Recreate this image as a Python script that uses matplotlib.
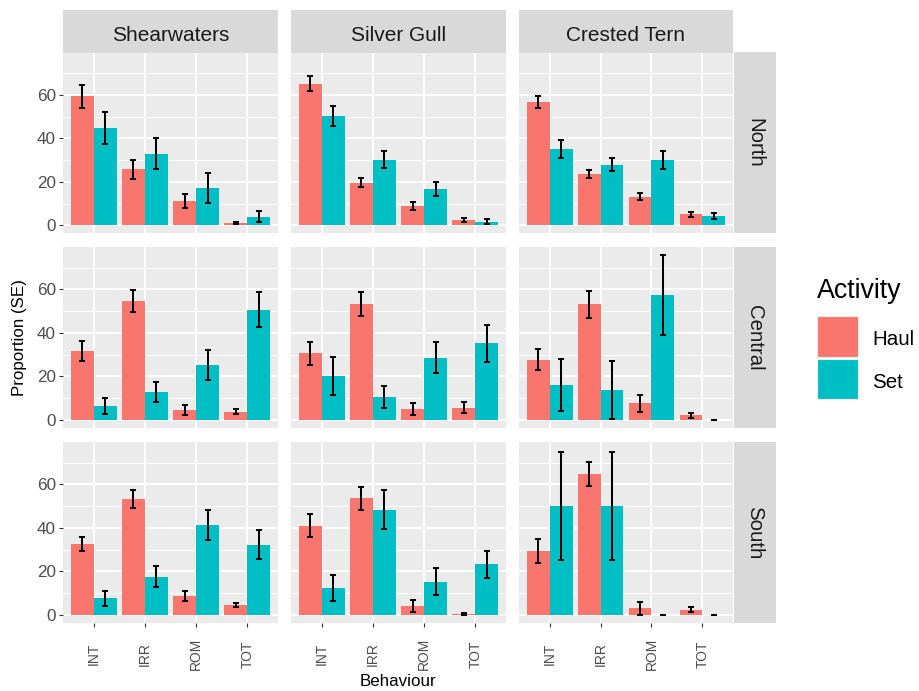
import numpy as np
import matplotlib
matplotlib.use('Agg')
import matplotlib.pyplot as plt
from matplotlib.patches import Rectangle

plt.rcParams['font.family'] = ['Liberation Sans', 'DejaVu Sans']

behaviours = ['INT', 'IRR', 'ROM', 'TOT']
birds = ['Shearwaters', 'Silver Gull', 'Crested Tern']
regions = ['North', 'Central', 'South']
activities = ['Haul', 'Set']

# one row per region (North, Central, South), one column per behaviour
shearwaters_haul = [[59.3, 25.7, 11.0, 1.2], [31.7, 54.7, 4.6, 3.7], [32.5, 53.3, 8.7, 4.6]]
shearwaters_haul_se = [[5.3, 4.4, 3.2, 0.5], [4.6, 5.1, 2.4, 1.2], [3.3, 4.0, 2.3, 0.9]]
shearwaters_set = [[44.9, 32.9, 17.2, 4.0], [6.4, 12.7, 25.3, 50.7], [7.5, 17.6, 41.5, 32.2]]
shearwaters_set_se = [[7.3, 7.2, 6.9, 2.5], [3.6, 4.7, 7.0, 8.0], [3.6, 5.0, 6.9, 6.6]]

silvergull_haul = [[65.2, 19.6, 8.9, 2.5], [30.5, 53.3, 4.9, 5.5], [40.9, 53.6, 4.1, 0.3]]
silvergull_haul_se = [[3.4, 2.1, 1.8, 1.0], [5.2, 5.6, 2.8, 2.5], [5.3, 5.2, 2.9, 0.3]]
silvergull_set = [[50.4, 30.2, 16.7, 1.7], [20.2, 10.4, 28.6, 35.1], [12.4, 48.4, 15.3, 23.2]]
silvergull_set_se = [[4.7, 3.8, 3.3, 1.0], [8.7, 5.0, 7.0, 8.6], [6.0, 9.0, 6.3, 6.3]]

tern_haul = [[56.7, 23.6, 13.2, 5.1], [27.7, 53.1, 7.7, 2.0], [29.2, 64.6, 3.0, 2.3]]
tern_haul_se = [[2.9, 1.9, 1.7, 1.1], [4.8, 6.2, 3.9, 1.1], [5.5, 5.5, 3.0, 1.2]]
tern_set = [[35.1, 27.9, 30.2, 4.3], [16.1, 13.6, 57.4, 0.0], [50.0, 50.0, 0.0, 0.0]]
tern_set_se = [[4.2, 3.1, 4.1, 1.2], [12.0, 13.4, 18.3, 0.0], [25.0, 25.0, 0.0, 0.0]]

means = {'Shearwaters': (shearwaters_haul, shearwaters_set),
         'Silver Gull': (silvergull_haul, silvergull_set),
         'Crested Tern': (tern_haul, tern_set)}
ses = {'Shearwaters': (shearwaters_haul_se, shearwaters_set_se),
       'Silver Gull': (silvergull_haul_se, silvergull_set_se),
       'Crested Tern': (tern_haul_se, tern_set_se)}

colors = ['#F8766D', '#00BFC4']

W, H = 919, 691
fig = plt.figure(figsize=(W / 100, H / 100), dpi=100)


def box(x0, y0, x1, y1):
    return [x0 / W, 1 - y1 / H, (x1 - x0) / W, (y1 - y0) / H]


# shared y range with ggplot-like 5% expansion
hi = max(np.max(np.array(means[b][k]) + np.array(ses[b][k])) for b in birds for k in range(2))
lo = min(0, min(np.min(np.array(means[b][k]) - np.array(ses[b][k])) for b in birds for k in range(2)))
pad = 0.05 * (hi - lo)
ylim = (lo - pad, hi + pad)

col_x = [(63, 278), (291, 506), (519, 733)]
row_y = [(52.5, 233.5), (247, 428), (442, 623)]
x = np.arange(1, len(behaviours) + 1)
bw = 0.45

for r, region in enumerate(regions):
    for c, bird in enumerate(birds):
        x0, x1 = col_x[c]
        y0, y1 = row_y[r]
        ax = fig.add_axes(box(x0, y0, x1, y1))
        ax.set_facecolor('#EBEBEB')
        for s in ax.spines.values():
            s.set_visible(False)
        for k in range(2):
            m = means[bird][k][r]
            e = ses[bird][k][r]
            xs = x + (k - 0.5) * bw
            ax.bar(xs, m, width=bw, color=colors[k], zorder=2)
            ax.errorbar(xs, m, yerr=e, fmt='none', ecolor='black', elinewidth=1.45,
                        capsize=2.1, capthick=1.45, zorder=3)
        ax.set_xlim(0.4, 4.6)
        ax.set_ylim(*ylim)
        ax.set_yticks([0, 20, 40, 60])
        ax.set_yticks([10, 30, 50, 70], minor=True)
        ax.set_xticks(x)
        ax.grid(which='major', color='white', linewidth=1.3, zorder=0)
        ax.grid(which='minor', axis='y', color='white', linewidth=0.65, zorder=0)
        ax.set_axisbelow(True)
        ax.tick_params(which='minor', length=0)
        ax.tick_params(which='major', length=3, width=0.8, color='#333333',
                       labelcolor='#4D4D4D')
        if c == 0:
            ax.tick_params(axis='y', labelsize=12.3, pad=2)
        else:
            ax.tick_params(axis='y', length=0, labelleft=False)
        if r == len(regions) - 1:
            ax.set_xticklabels(behaviours, rotation=90, va='center', ha='center',
                               fontsize=10)
            ax.tick_params(axis='x', pad=19.5)
        else:
            ax.tick_params(axis='x', length=0, labelbottom=False)

        # column strips on top
        if r == 0:
            st = fig.add_axes(box(x0, 10, x1, 52.5))
            st.set_facecolor('#D9D9D9')
            st.set_xticks([])
            st.set_yticks([])
            for s in st.spines.values():
                s.set_visible(False)
            st.text(0.5, 0.28, bird, ha='center', va='baseline', fontsize=15,
                    color='#1A1A1A', transform=st.transAxes)
        # row strips on right
        if c == len(birds) - 1:
            st = fig.add_axes(box(733.5, y0, 776, y1))
            st.set_facecolor('#D9D9D9')
            st.set_xticks([])
            st.set_yticks([])
            for s in st.spines.values():
                s.set_visible(False)
            st.text(0.5, 0.5, region, ha='center', va='center', rotation=270,
                    fontsize=14.7, color='#1A1A1A', transform=st.transAxes)

# axis titles
fig.text(19.5 / W, 1 - 338 / H, 'Proportion (SE)', rotation=90, ha='center', va='center',
         fontsize=12.2, color='black')
fig.text(398 / W, 1 - 686.5 / H, 'Behaviour', ha='center', va='baseline',
         fontsize=12.2, color='black')

# legend
lg = fig.add_axes([0, 0, 1, 1])
lg.set_xlim(0, W)
lg.set_ylim(H, 0)
lg.axis('off')
lg.patch.set_alpha(0)
lg.text(816.5, 298, 'Activity', ha='left', va='baseline', fontsize=19.3, color='black')
key_y = [(316, 356.5), (358.5, 398.5)]
label_base = [345, 387.5]
for k, act in enumerate(activities):
    ky0, ky1 = key_y[k]
    lg.add_patch(Rectangle((817, ky0), 40.5, ky1 - ky0, facecolor=colors[k],
                           edgecolor='#F2F2F2', linewidth=0.8))
    lg.text(872.5, label_base[k], act, ha='left', va='baseline', fontsize=14.8,
            color='black')

fig.savefig('out.png', dpi=100)
